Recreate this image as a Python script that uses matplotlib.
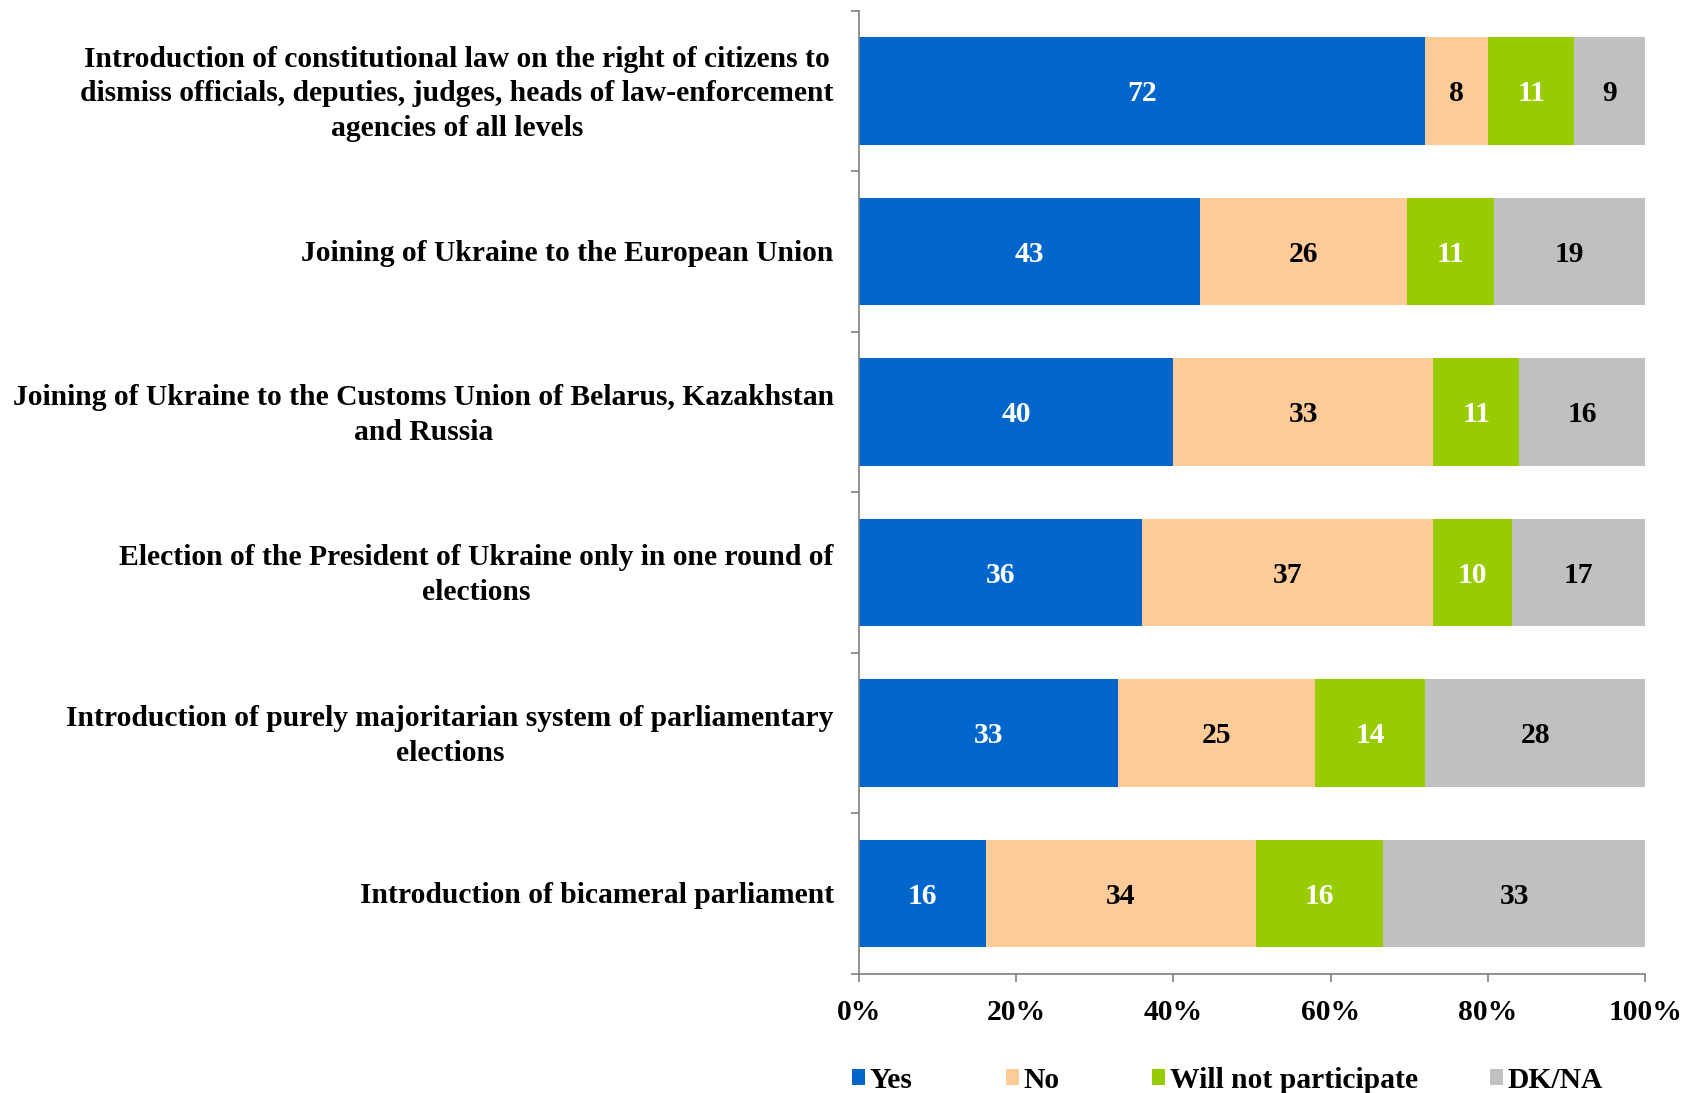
import matplotlib
matplotlib.use("Agg")
import matplotlib.pyplot as plt
import numpy as np
from matplotlib.patches import Patch

categories = [
    "Introduction of constitutional law on the right of citizens to\ndismiss officials, deputies, judges, heads of law-enforcement\nagencies of all levels",
    "Joining of Ukraine to the European Union",
    "Joining of Ukraine to the Customs Union of Belarus, Kazakhstan\nand Russia",
    "Election of the President of Ukraine only in one round of\nelections",
    "Introduction of purely majoritarian system of parliamentary\nelections",
    "Introduction of bicameral parliament",
]
series_names = ["Yes", "No", "Will not participate", "DK/NA"]
yes = [72, 43, 40, 36, 33, 16]
no = [8, 26, 33, 37, 25, 34]
wont = [11, 11, 11, 10, 14, 16]
dkna = [9, 19, 16, 17, 28, 33]
x_ticklabels = ["0%", "20%", "40%", "60%", "80%", "100%"]

colors = ["#0066CC", "#FFCC99", "#99CC00", "#C0C0C0"]
text_colors = ["white", "black", "white", "black"]

plt.rcParams["font.family"] = ["Liberation Serif", "DejaVu Serif"]
plt.rcParams["font.weight"] = "bold"

FS = 21.3

fig = plt.figure(figsize=(16.84, 10.93), dpi=100)
ax = fig.add_axes([0.510, 0.109, 0.467, 0.881])

data = np.array([yes, no, wont, dkna], dtype=float)
totals = data.sum(axis=0)
pct = data / totals * 100
y = np.arange(len(categories))
left = np.zeros(len(categories))
for i, name in enumerate(series_names):
    ax.barh(y, pct[i], left=left, height=0.67, color=colors[i], label=name)
    for j in range(len(categories)):
        ax.text(left[j] + pct[i][j] / 2, y[j] + 0.015, f"{int(data[i][j])}",
                ha="center", va="center", color=text_colors[i],
                fontsize=FS, fontweight="bold")
    left += pct[i]

ax.set_xlim(0, 100)
ax.set_ylim(len(categories) - 0.5, -0.5)
ax.set_xticks(np.linspace(0, 100, 6))
ax.set_xticklabels(x_ticklabels, fontsize=FS, fontweight="bold")
# small upward nudge of the label text so it centres on the bar like the reference
label_nudge = np.array([0.026 if "\n" in c else 0.006 for c in categories])
ax.set_yticks(y - label_nudge)
ax.set_yticklabels(categories, fontsize=FS, fontweight="bold",
                   multialignment="center", linespacing=1.36)
ax.set_yticks(np.arange(-0.5, len(categories), 1), minor=True)
ax.tick_params(axis="y", which="major", length=0, pad=18)
ax.tick_params(axis="y", which="minor", length=6, color="#808080", width=1.2)
ax.tick_params(axis="x", length=6, color="#808080", width=1.2, pad=12)
for s in ["top", "right"]:
    ax.spines[s].set_visible(False)
for s in ["left", "bottom"]:
    ax.spines[s].set_color("#808080")
    ax.spines[s].set_linewidth(1.2)

legend_x = [0.506, 0.5974, 0.6841, 0.8848]
for c, name, lx in zip(colors, series_names, legend_x):
    fig.legend([Patch(facecolor=c, edgecolor="none")], [name], loc="center left",
               bbox_to_anchor=(lx, 0.0115), frameon=False, handlelength=0.45,
               handleheight=0.45, handletextpad=0.15, borderpad=0, borderaxespad=0,
               prop={"weight": "bold", "size": FS})

fig.savefig("out.png", dpi=100)
